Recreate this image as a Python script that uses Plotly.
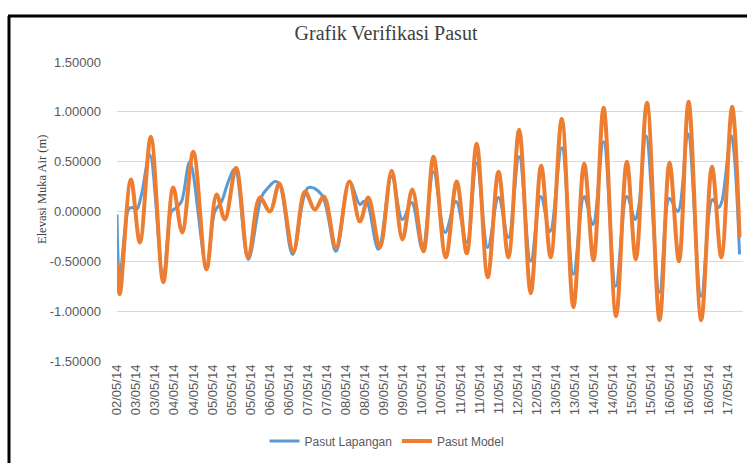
import plotly.graph_objects as go

# ---- data (hours since 02/05/14 18:00, water level in m) ----
tick_labels = ["02/05/14", "03/05/14", "03/05/14", "04/05/14", "04/05/14", "05/05/14",
               "05/05/14", "05/05/14", "06/05/14", "06/05/14", "07/05/14", "07/05/14",
               "08/05/14", "08/05/14", "09/05/14", "09/05/14", "10/05/14", "10/05/14",
               "11/05/14", "11/05/14", "11/05/14", "12/05/14", "12/05/14", "13/05/14",
               "13/05/14", "14/05/14", "14/05/14", "15/05/14", "15/05/14", "16/05/14",
               "16/05/14", "16/05/14", "17/05/14"]
tick_hours = [0, 11, 22, 33, 44, 55, 66, 77, 88, 99, 110, 121, 132, 143, 154, 165, 176,
              187, 198, 209, 220, 231, 242, 253, 264, 275, 286, 297, 308, 319, 330, 341, 352]

y_ticks = [-1.5, -1.0, -0.5, 0.0, 0.5, 1.0, 1.5]
y_tick_text = ["-1.50000", "-1.00000", "-0.50000", "0.00000", "0.50000", "1.00000", "1.50000"]

hours_lapangan = [0, 1.6, 6.6, 8.4, 11.3, 14.1, 18.9, 26.7, 31.4, 34.3, 37.2, 42.0, 51.6,
                  56.4, 60.3, 64.2, 68.0, 75.7, 83.4, 87.2, 91.1, 93.6, 101.3, 110.3, 118.0,
                  126.3, 134.0, 140.1, 142.2, 144.0, 150.7, 158.4, 164.6, 169.9, 176.1, 182.5,
                  189.2, 195.5, 201.7, 207.4, 213.8, 220.0, 225.7, 231.9, 238.6, 244.4, 249.7,
                  256.5, 263.2, 269.4, 274.4, 280.6, 287.6, 294.0, 298.8, 300.9, 305.1, 312.9,
                  318.6, 323.4, 329.2, 336.9, 343.4, 346.9, 348.8, 354.2, 359.0]
pasut_lapangan = [-0.03, -0.66, 0.02, 0.04, 0.02, 0.17, 0.57, -0.65, 0.00, 0.04, 0.10, 0.50, -0.55,
                  0.00, 0.10, 0.30, 0.43, -0.48, 0.15, 0.24, 0.30, 0.28, -0.43, 0.24, 0.17,
                  -0.40, 0.30, 0.07, 0.10, 0.10, -0.38, 0.35, -0.08, 0.09, -0.38, 0.40,
                  -0.21, 0.10, -0.31, 0.49, -0.36, 0.14, -0.26, 0.55, -0.50, 0.15, -0.20,
                  0.64, -0.63, 0.15, -0.13, 0.70, -0.75, 0.15, -0.08, 0.05, 0.76, -0.81,
                  0.13, 0.00, 0.78, -0.85, 0.12, 0.04, 0.10, 0.76, -0.43]

hours_model = [0, 1.6, 8.0, 13.2, 19.5, 26.7, 32.4, 37.6, 44.0, 51.6, 57.4, 62.2, 68.7, 75.7,
               82.4, 88.2, 93.6, 101.7, 108.4, 114.1, 119.3, 126.3, 134.0, 140.1, 144.9, 151.6,
               158.4, 164.6, 170.3, 176.7, 182.5, 189.6, 195.9, 201.7, 207.4, 213.8, 220.0,
               225.7, 231.9, 238.6, 244.6, 250.1, 256.5, 263.2, 269.4, 274.8, 280.6, 287.8,
               294.0, 299.2, 305.6, 312.9, 318.6, 324.1, 329.6, 336.9, 343.1, 348.5, 354.7, 359.0]
pasut_model = [-0.51, -0.83, 0.32, -0.31, 0.75, -0.71, 0.24, -0.21, 0.60, -0.58, 0.17, -0.08, 0.44,
               -0.46, 0.14, 0.00, 0.28, -0.40, 0.20, 0.02, 0.15, -0.36, 0.30, -0.10, 0.14, -0.36,
               0.41, -0.28, 0.22, -0.40, 0.55, -0.46, 0.30, -0.42, 0.68, -0.66, 0.40,
               -0.46, 0.82, -0.82, 0.46, -0.46, 0.93, -0.96, 0.48, -0.49, 1.04, -1.05,
               0.50, -0.48, 1.09, -1.09, 0.49, -0.50, 1.10, -1.09, 0.45, -0.46, 1.05, -0.26]

# ---- figure ----
W, H = 747, 463
ML, MR, MT, MB = 117, 4, 62, 102
PW, PH = W - ML - MR, H - MT - MB

def px(x):
    return (x - ML) / PW

def py(y):
    return (H - MB - y) / PH

fig = go.Figure()
fig.add_trace(go.Scatter(x=hours_lapangan, y=pasut_lapangan, mode="lines", name="Pasut Lapangan",
                         line=dict(color="#5B9BD5", width=3, shape="spline", smoothing=1.0)))
fig.add_trace(go.Scatter(x=hours_model, y=pasut_model, mode="lines", name="Pasut Model",
                         line=dict(color="#ED7D31", width=4, shape="spline", smoothing=1.0)))

fig.update_layout(
    width=W, height=H,
    margin=dict(l=ML, r=MR, t=MT, b=MB, autoexpand=False),
    paper_bgcolor="white", plot_bgcolor="white",
    title=dict(text="Grafik Verifikasi Pasut", x=386 / W, xanchor="center", y=1 - 33 / H, yanchor="middle",
               font=dict(family="Liberation Serif", size=20, color="#404040")),
    showlegend=True,
    legend=dict(orientation="h", x=px(387), xanchor="center", y=py(441), yanchor="middle",
                font=dict(family="Liberation Sans", size=12, color="#595959"),
                itemwidth=30, bgcolor="rgba(0,0,0,0)"),
    xaxis=dict(range=[0, 361], tickmode="array", tickvals=tick_hours, ticktext=tick_labels,
               tickangle=-90, showgrid=False, zeroline=False, showline=False, automargin=False,
               ticks="", tickfont=dict(family="Liberation Sans", size=13, color="#595959")),
    yaxis=dict(range=[-1.5, 1.5], tickmode="array", tickvals=y_ticks, ticktext=y_tick_text,
               showgrid=True, gridcolor="#D9D9D9", gridwidth=1, zeroline=False, showline=False,
               ticks="", ticklabelstandoff=15, automargin=False,
               tickfont=dict(family="Liberation Sans", size=13, color="#595959")),
    annotations=[dict(text="Elevasi Muka Air (m)", xref="paper", yref="paper", x=px(42), y=py(190),
                      xanchor="center", yanchor="middle", textangle=-90, showarrow=False,
                      font=dict(family="Liberation Serif", size=12.5, color="#404040"))],
    shapes=[
        dict(type="line", xref="paper", yref="paper", x0=px(9), x1=px(9), y0=py(16), y1=py(470),
             line=dict(color="black", width=3)),
        dict(type="line", xref="paper", yref="paper", x0=px(8), x1=px(760), y0=py(16), y1=py(16),
             line=dict(color="black", width=3)),
    ],
)

fig.write_html("out.html", config={"displayModeBar": False},
               post_script="document.body.style.margin='0px';")
